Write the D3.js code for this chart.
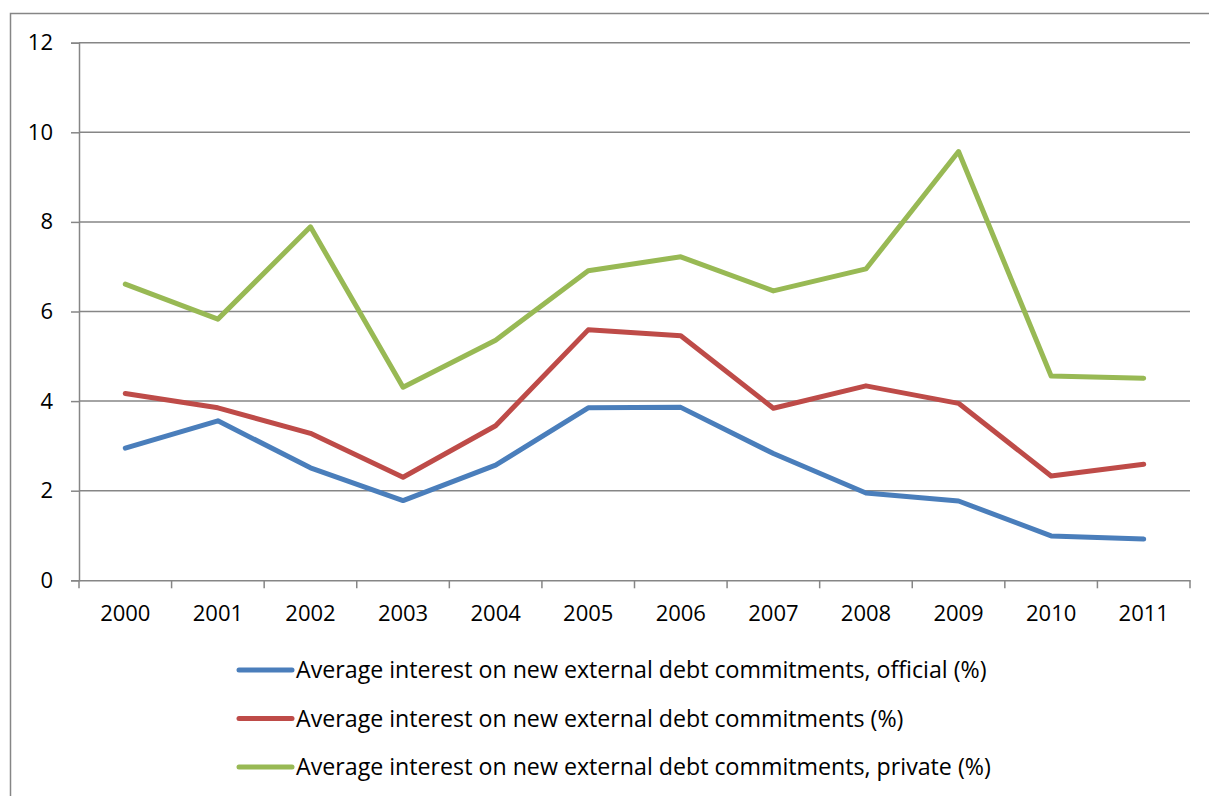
<!DOCTYPE html>
<html>
<head>
<meta charset="utf-8">
<script src="https://cdn.jsdelivr.net/npm/d3@7"></script>
<style>
  html, body { margin: 0; padding: 0; background: #fff; }
  svg { display: block; }
  text { font-family: "Open Sans", Lato, sans-serif; fill: #000; }
</style>
</head>
<body>
<svg id="chart" width="1209" height="796"></svg>
<script>
// Years along the x axis
var years = ['2000', '2001', '2002', '2003', '2004', '2005', '2006', '2007', '2008', '2009', '2010', '2011'];
// Average interest (%)
var official = [2.95, 3.56, 2.51, 1.78, 2.57, 3.85, 3.86, 2.83, 1.95, 1.77, 0.99, 0.92];
var overall  = [4.17, 3.85, 3.28, 2.30, 3.45, 5.59, 5.46, 3.84, 4.34, 3.95, 2.33, 2.59];
var privat   = [6.61, 5.83, 7.89, 4.31, 5.36, 6.91, 7.22, 6.46, 6.95, 9.57, 4.56, 4.51];
var yTicks = [0, 2, 4, 6, 8, 10, 12];
var seriesNames = [
  'Average interest on new external debt commitments, official (%)',
  'Average interest on new external debt commitments (%)',
  'Average interest on new external debt commitments, private (%)'
];
var colors = ['#4a7ebb', '#be4b48', '#98b954'];

(function () {
  var series = [official, overall, privat].map(function (v, i) {
    return { name: seriesNames[i], color: colors[i], values: v };
  });

  var svg = d3.select('#chart');
  var grey = '#868686';
  var fs = '22px';

  // outer chart-area border (runs off the right and bottom of the picture)
  svg.append('rect')
    .attr('x', 10.5).attr('y', 13.5).attr('width', 1220).attr('height', 820)
    .attr('fill', 'none').attr('stroke', grey).attr('stroke-width', 1.5);

  var pLeft = 79, pRight = 1190, pTop = 42.7, pBottom = 580.3;

  var x = d3.scaleBand().domain(years).range([pLeft, pRight]);
  var y = d3.scaleLinear().domain([0, 12]).range([pBottom, pTop]);

  // gridlines
  svg.append('g').selectAll('line').data(yTicks.slice(1)).join('line')
    .attr('x1', pLeft).attr('x2', pRight)
    .attr('y1', function (d) { return y(d); }).attr('y2', function (d) { return y(d); })
    .attr('stroke', grey).attr('stroke-width', 1.5);

  // y axis
  var yAxis = svg.append('g').attr('transform', 'translate(' + pLeft + ',0)')
    .call(d3.axisLeft(y).tickValues(yTicks).tickSize(8).tickPadding(18));
  yAxis.select('.domain').attr('stroke', grey).attr('stroke-width', 1.5);
  yAxis.selectAll('.tick line').attr('stroke', grey).attr('stroke-width', 1.5);
  yAxis.selectAll('text').style('font-size', fs).attr('fill', '#000');

  // x axis with ticks between categories
  var xAxis = svg.append('g').attr('transform', 'translate(0,' + pBottom + ')')
    .call(d3.axisBottom(x).tickSize(0).tickPadding(25));
  xAxis.select('.domain').attr('stroke', grey).attr('stroke-width', 1.5);
  xAxis.selectAll('text').style('font-size', fs).attr('fill', '#000');
  var edges = years.map(function (d) { return x(d); }).concat([pRight]);
  xAxis.append('g').selectAll('line').data(edges).join('line')
    .attr('x1', function (d) { return d; }).attr('x2', function (d) { return d; })
    .attr('y1', 0).attr('y2', 8)
    .attr('stroke', grey).attr('stroke-width', 1.5);

  // remove d3's default font on axis groups so the CSS font applies
  svg.selectAll('g').attr('font-family', null);

  // lines
  var line = d3.line()
    .x(function (d, i) { return x(years[i]) + x.bandwidth() / 2; })
    .y(function (d) { return y(d); });

  svg.append('g').selectAll('path').data(series).join('path')
    .attr('d', function (s) { return line(s.values); })
    .attr('fill', 'none')
    .attr('stroke', function (s) { return s.color; })
    .attr('stroke-width', 5)
    .attr('stroke-linejoin', 'round')
    .attr('stroke-linecap', 'round');

  // legend
  var leg = svg.append('g').selectAll('g').data(series).join('g')
    .attr('transform', function (d, i) { return 'translate(0,' + (670 + i * 48.5) + ')'; });
  leg.append('line')
    .attr('x1', 239).attr('x2', 292).attr('y1', 0).attr('y2', 0)
    .attr('stroke', function (d) { return d.color; })
    .attr('stroke-width', 5).attr('stroke-linecap', 'round');
  leg.append('text')
    .attr('x', 296).attr('y', 0).attr('dy', '0.35em')
    .style('font-size', '23.2px')
    .text(function (d) { return d.name; });
})();
</script>
</body>
</html>
